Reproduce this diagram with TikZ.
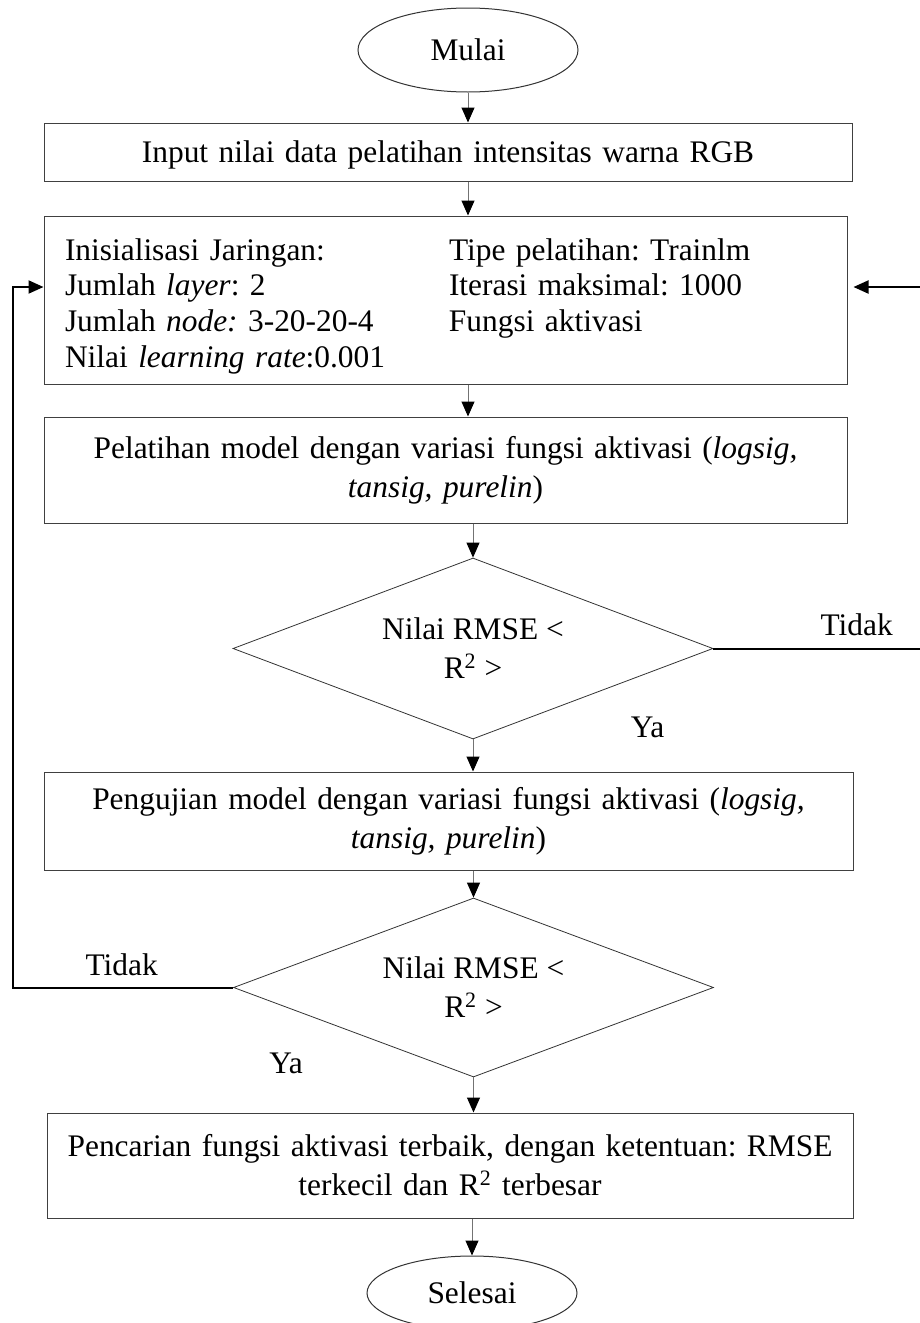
\documentclass[tikz,border=0pt]{standalone}
\usepackage{fontspec}
\setmainfont{Liberation Serif}
\usetikzlibrary{shapes.geometric,arrows.meta}
\frenchspacing

\begin{document}
\begin{tikzpicture}[x=0.5pt, y=-0.5pt,
	font=\fontsize{15.7}{19.5}\selectfont,
	proc/.style={rectangle, draw=black!75, line width=0.5pt, inner sep=0pt, align=center},
	decide/.style={diamond, aspect=2.65, draw=black!80, line width=0.4pt, inner sep=0pt, align=center},
	term/.style={ellipse, draw=black!80, line width=0.5pt, inner sep=0pt},
	flow/.style={draw=black!55, line width=0.5pt, -{Triangle[length=7.5pt, width=6.5pt, color=black]}},
	loopline/.style={draw=black, line width=1pt},
	lbl/.style={inner sep=0pt, anchor=base}
]
\useasboundingbox (0,0) rectangle (920,1323);

\node[term, minimum width=110pt, minimum height=42pt] (start) at (468,50) {Mulai};
\node[proc, text width=404pt, minimum height=29pt, text depth=0pt] (input) at (448,152) {Input nilai data pelatihan intensitas warna RGB};
\node[proc, text width=380.5pt, inner xsep=10.5pt, align=left, minimum height=84pt, font=\fontsize{15.7}{17.85}\selectfont] (init) at (445.5,300) {%
	\begin{tabular}{@{}p{192pt}@{}l@{}}
	\rule{0pt}{19pt}Inisialisasi Jaringan: & Tipe pelatihan: Trainlm \\
	Jumlah \textit{layer}: 2 & Iterasi maksimal: 1000 \\
	Jumlah \textit{node:} 3-20-20-4 & Fungsi aktivasi \\
	Nilai \textit{learning rate}:0.001 & \\
	\end{tabular}};
\node[proc, text width=401.5pt, minimum height=53pt] (train) at (445.5,470) {Pelatihan model dengan variasi fungsi aktivasi (\textit{logsig,}\\ \textit{tansig, purelin})};
\node[decide, minimum width=240pt, minimum height=90.5pt] (dec1) at (473,648.5) {Nilai RMSE <\\ R\textsuperscript{2} >};
\node[proc, text width=404.5pt, minimum height=49pt] (test) at (448.5,821) {Pengujian model dengan variasi fungsi aktivasi (\textit{logsig,}\\ \textit{tansig, purelin})};
\node[decide, minimum width=240pt, minimum height=89.5pt] (dec2) at (473.5,987.5) {Nilai RMSE <\\ R\textsuperscript{2} >};
\node[proc, text width=403pt, minimum height=52.5pt] (best) at (450,1165.5) {Pencarian fungsi aktivasi terbaik, dengan ketentuan: RMSE\\ terkecil dan R\textsuperscript{2} terbesar};
\node[term, minimum width=105pt, minimum height=37pt] (stop) at (472,1293) {Selesai};

\node[lbl] (yes1) at (647.5,737) {Ya};
\node[lbl] (yes2) at (286,1073) {Ya};

\coordinate (ltop) at (13,287);
\coordinate (rtop) at (924,287);

% main flow
\draw[flow] (start.south) -- (start.south |- input.north);
\draw[flow] (start.south |- input.south) -- (start.south |- init.north);
\draw[flow] (start.south |- init.south) -- (start.south |- train.north);
\draw[flow] (dec1.north |- train.south) -- (dec1.north);
\draw[flow] (dec1.south) -- (dec1.south |- test.north);
\draw[flow] (dec2.north |- test.south) -- (dec2.north);
\draw[flow] (dec2.south) -- (dec2.south |- best.north);
\draw[flow] (stop.north |- best.south) -- (stop.north);

% loops back to init
\draw[loopline, -{Triangle[length=7.5pt, width=6.5pt]}, shorten >=3pt] (dec1.east) -| node[lbl, pos=0.34, yshift=6.5pt] (no1) {Tidak} (rtop) -- (rtop -| init.east);
\draw[loopline, -{Triangle[length=7.5pt, width=6.5pt]}] (dec2.west) -| node[lbl, pos=0.253, yshift=6pt] (no2) {Tidak} (ltop) -- (ltop -| init.west);
\end{tikzpicture}
\end{document}
